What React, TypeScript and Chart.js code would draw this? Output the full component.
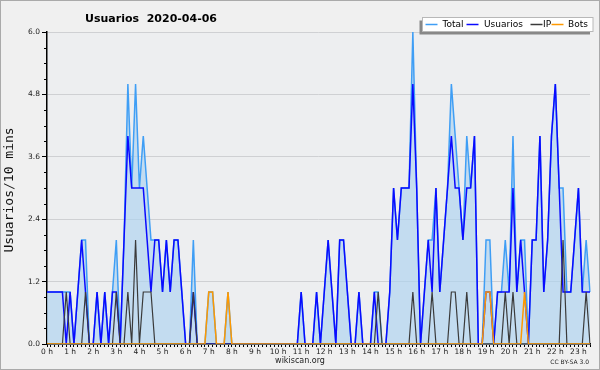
import React, { useEffect, useRef } from "react";
import { Chart, registerables } from "chart.js";

Chart.register(...registerables);

const titleText = "Usuarios  2020-04-06";
const yAxisTitle = "Usuarios/10 mins";
const hourLabels = ["0 h","1 h","2 h","3 h","4 h","5 h","6 h","7 h","8 h","9 h","10 h","11 h","12 h","13 h","14 h","15 h","16 h","17 h","18 h","19 h","20 h","21 h","22 h","23 h"];
const slotsPerHour = 6;
const yTicks = [0, 1.2, 2.4, 3.6, 4.8, 6.0];

const usuarios = [
  1,1,1,1,1,0,1,0,1,2,
  1,0,0,1,0,1,0,1,1,0,
  2,4,3,3,3,3,2,1,2,2,
  1,2,1,2,2,1,0,0,1,0,
  0,0,0,0,0,0,0,0,0,0,
  0,0,0,0,0,0,0,0,0,0,
  0,0,0,0,0,0,1,0,0,0,
  1,0,1,2,1,0,2,2,1,0,
  0,1,0,0,0,1,0,0,0,1,
  3,2,3,3,3,5,3,0,1,2,
  1,3,1,2,3,4,3,3,2,3,
  3,4,0,0,1,1,0,1,1,1,
  1,3,1,2,1,0,2,2,4,1,
  2,4,5,3,1,1,1,2,3,1,
  1,1
];
const ip = [
  0,0,0,0,0,1,0,0,0,0,
  1,0,0,0,0,0,0,0,1,0,
  0,1,0,2,0,1,1,1,0,0,
  0,0,0,0,0,0,0,0,1,0,
  0,0,0,0,0,0,0,0,0,0,
  0,0,0,0,0,0,0,0,0,0,
  0,0,0,0,0,0,0,0,0,0,
  0,0,0,0,0,0,0,0,0,0,
  0,0,0,0,0,0,1,0,0,0,
  0,0,0,0,0,1,0,0,0,0,
  1,0,0,0,0,1,1,0,0,1,
  0,0,0,0,0,0,0,0,0,1,
  0,1,0,0,0,0,0,0,0,0,
  0,0,0,0,2,0,0,0,0,0,
  1,0
];
const bots = [
  0,0,0,0,0,0,0,0,0,0,
  0,0,0,0,0,0,0,0,0,0,
  0,0,0,0,0,0,0,0,0,0,
  0,0,0,0,0,0,0,0,0,0,
  0,0,1,1,0,0,0,1,0,0,
  0,0,0,0,0,0,0,0,0,0,
  0,0,0,0,0,0,0,0,0,0,
  0,0,0,0,0,0,0,0,0,0,
  0,0,0,0,0,0,0,0,0,0,
  0,0,0,0,0,0,0,0,0,0,
  0,0,0,0,0,0,0,0,0,0,
  0,0,0,0,1,1,0,0,0,0,
  0,0,0,0,1,0,0,0,0,0,
  0,0,0,0,0,0,0,0,0,0,
  0,0
];
const total = [
  1,1,1,1,1,1,1,0,1,2,
  2,0,0,1,0,1,0,1,2,0,
  2,5,3,5,3,4,3,2,2,2,
  1,2,1,2,2,1,0,0,2,0,
  0,0,1,1,0,0,0,1,0,0,
  0,0,0,0,0,0,0,0,0,0,
  0,0,0,0,0,0,1,0,0,0,
  1,0,1,2,1,0,2,2,1,0,
  0,1,0,0,0,1,1,0,0,1,
  3,2,3,3,3,6,3,0,1,2,
  2,3,1,2,3,5,4,3,2,4,
  3,4,0,0,2,2,0,1,1,2,
  1,4,1,2,2,0,2,2,4,1,
  2,4,5,3,3,1,1,2,3,1,
  2,1
];

const legendItems = [
  { label: "Total", color: "#3f9ef5" },
  { label: "Usuarios", color: "#0a0aff" },
  { label: "IP", color: "#3a3a3a" },
  { label: "Bots", color: "#ff9900" },
];

const categories = usuarios.map((_, i) => (i % slotsPerHour === 0 ? hourLabels[i / slotsPerHour] : ""));

const decorPlugin = {
  id: "decor",
  beforeDraw(chart: any) {
    const ctx = chart.ctx;
    const { left, top, right, bottom } = chart.chartArea;
    ctx.save();
    ctx.fillStyle = "#f0f0f0";
    ctx.fillRect(0, 0, chart.width, chart.height);
    ctx.strokeStyle = "#aaaaaa";
    ctx.lineWidth = 1;
    ctx.strokeRect(0.5, 0.5, chart.width - 1, chart.height - 1);
    ctx.fillStyle = "#edeef0";
    ctx.fillRect(left, top, right - left, bottom - top);
    ctx.restore();
  },
  afterDraw(chart: any) {
    const ctx = chart.ctx;
    const { left } = chart.chartArea;
    const ys = chart.scales.y;
    ctx.save();
    ctx.strokeStyle = "#000";
    ctx.lineWidth = 1;
    for (let k = 0; k <= 20; k++) {
      if (k % 4 === 0) continue;
      const y = Math.round(ys.getPixelForValue(k * 0.3)) + 0.5;
      ctx.beginPath();
      ctx.moveTo(left - 3, y);
      ctx.lineTo(left, y);
      ctx.stroke();
    }
    ctx.fillStyle = "#000";
    ctx.font = "bold 11px 'DejaVu Sans'";
    ctx.textAlign = "center";
    ctx.textBaseline = "alphabetic";
    ctx.fillText(titleText, 151, 21.5);
    ctx.save();
    ctx.translate(10, 190);
    ctx.rotate(-Math.PI / 2);
    ctx.font = "13px 'DejaVu Sans Mono'";
    ctx.textAlign = "center";
    ctx.textBaseline = "middle";
    ctx.fillStyle = "#111";
    ctx.fillText(yAxisTitle, 0, 0);
    ctx.restore();
    const bx = 422.5, by = 17.5, bw = 170.5, bh = 14;
    ctx.fillStyle = "#888888";
    ctx.fillRect(bx - 3, by + 3, bw, bh);
    ctx.fillStyle = "#ffffff";
    ctx.fillRect(bx, by, bw, bh);
    ctx.strokeStyle = "#b8b8b8";
    ctx.lineWidth = 1;
    ctx.strokeRect(bx, by, bw, bh);
    const lineX = [425.5, 466.5, 530.5, 551.5];
    const textX = [442.5, 484, 543, 568];
    ctx.font = "9px 'DejaVu Sans'";
    ctx.textAlign = "left";
    ctx.textBaseline = "middle";
    legendItems.forEach((it, i) => {
      ctx.strokeStyle = it.color;
      ctx.lineWidth = 1.5;
      ctx.beginPath();
      ctx.moveTo(lineX[i], 24.5);
      ctx.lineTo(lineX[i] + 12, 24.5);
      ctx.stroke();
      ctx.fillStyle = "#000";
      ctx.fillText(it.label, textX[i], 24.5);
    });
    ctx.fillStyle = "#222";
    ctx.font = "8px 'DejaVu Sans'";
    ctx.textAlign = "center";
    ctx.textBaseline = "alphabetic";
    ctx.fillText("wikiscan.org", 300, 363);
    ctx.font = "6px 'DejaVu Sans'";
    ctx.textAlign = "right";
    ctx.fillText("CC BY-SA 3.0", 589, 364);
    ctx.restore();
  },
};

export default function App() {
  const ref = useRef<HTMLCanvasElement | null>(null);
  useEffect(() => {
    if (!ref.current) return;
    const line = (label: string, data: number[], color: string, order: number, width: number, extra: any = {}) => ({
      label,
      data,
      borderColor: color,
      borderWidth: width,
      pointRadius: 0,
      tension: 0,
      fill: false,
      order,
      ...extra,
    });
    const chart = new Chart(ref.current, {
      type: "line",
      data: {
        labels: categories,
        datasets: [
          line("Total", total, "#3f9ef5", 4, 1.5, { fill: "origin", backgroundColor: "rgba(172,210,240,0.65)" }),
          line("Usuarios", usuarios, "#0a0aff", 3, 1.5),
          line("IP", ip, "#3a3a3a", 2, 1.2),
          line("Bots", bots, "#ff9900", 1, 1.5),
        ],
      },
      options: {
        animation: false,
        responsive: false,
        maintainAspectRatio: false,
        events: [],
        layout: { padding: { top: 32, right: 10, left: 0, bottom: 0 } },
        plugins: { legend: { display: false }, tooltip: { enabled: false }, title: { display: false } },
        scales: {
          x: {
            type: "category",
            offset: false,
            grid: { drawOnChartArea: false, color: "#000", tickLength: 3, tickWidth: 1 },
            border: { color: "#000", width: 1.5 },
            ticks: {
              autoSkip: false,
              maxRotation: 0,
              minRotation: 0,
              padding: 1,
              color: "#222",
              font: { size: 7.5, family: "'DejaVu Sans'" },
              callback: (_v: any, i: number) => categories[i],
            },
            afterFit: (s: any) => { s.height = 26; },
          },
          y: {
            min: 0,
            max: 6,
            afterBuildTicks: (s: any) => { s.ticks = yTicks.map((v) => ({ value: v })); },
            ticks: {
              padding: 2,
              color: "#222",
              font: { size: 7.5, family: "'DejaVu Sans'" },
              callback: (v: any) => Number(v).toFixed(1),
            },
            grid: { color: "#cfd0d3", tickColor: "#000", tickLength: 5, lineWidth: 1 },
            border: { color: "#000", width: 1.5 },
            afterFit: (s: any) => { s.width = 47; },
          },
        },
      },
      plugins: [decorPlugin],
    });
    return () => chart.destroy();
  }, []);
  return (
    <div style={{ position: "fixed", left: 0, top: 0, width: 600, height: 370 }}>
      <canvas ref={ref} width={600} height={370} style={{ display: "block", width: 600, height: 370 }} />
    </div>
  );
}
